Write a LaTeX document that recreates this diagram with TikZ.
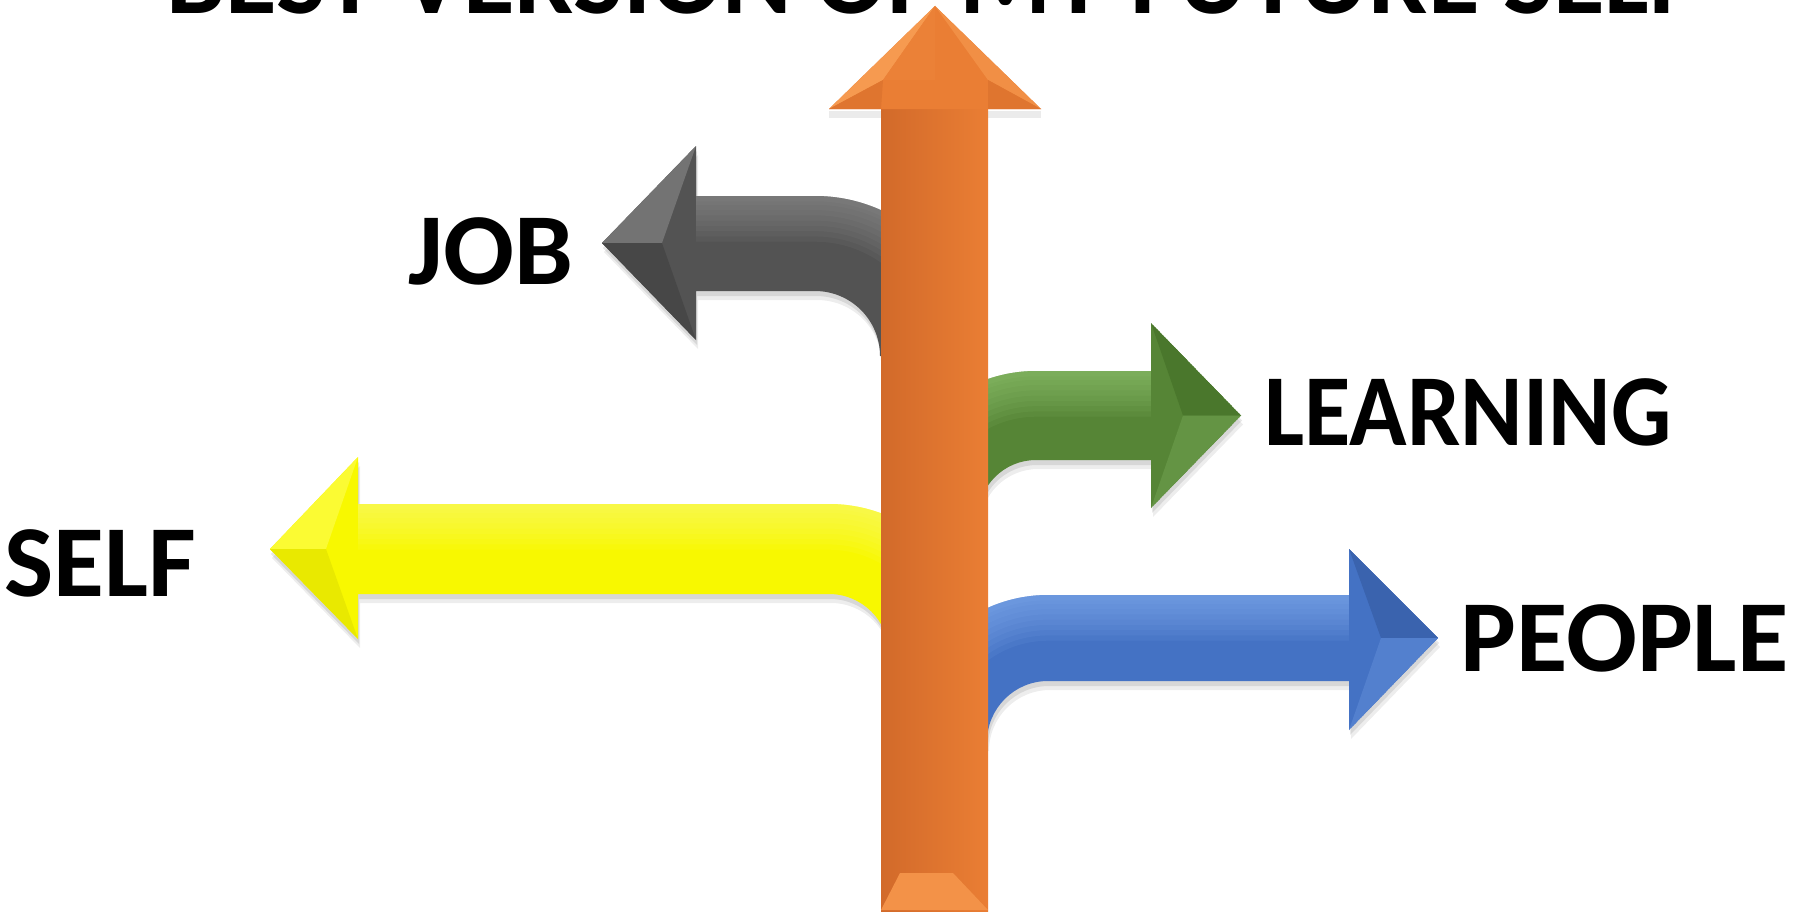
\documentclass[tikz,border=0pt]{standalone}
\usepackage{fontspec}
\setmainfont{Carlito}
\definecolor{orgA}{HTML}{EA7E34}
\definecolor{orgL}{HTML}{D26A2A}
\definecolor{orgH}{HTML}{F69A50}
\definecolor{orgD}{HTML}{DF752F}
\definecolor{gryA}{HTML}{535353}
\definecolor{gryH}{HTML}{9A9A9A}
\definecolor{gryD}{HTML}{474747}
\definecolor{ylwA}{HTML}{F8F800}
\definecolor{ylwH}{HTML}{FFFF80}
\definecolor{ylwD}{HTML}{E9E900}
\definecolor{grnA}{HTML}{568536}
\definecolor{grnH}{HTML}{9DD27A}
\definecolor{grnD}{HTML}{4A772C}
\definecolor{bluA}{HTML}{4472C4}
\definecolor{bluH}{HTML}{8DB8F8}
\definecolor{bluD}{HTML}{3A63AE}
\tikzset{
  lbl/.style={inner sep=0pt, font=\fontsize{29}{35}\selectfont\bfseries, text=black},
  ttl/.style={inner sep=0pt, font=\fontsize{30}{36}\selectfont\bfseries, text=black},
  shad/.style={fill=black, opacity=#1},
}
\newcommand\jobarrow[1]{\path[#1] (602,243) -- (696,146) -- (696,196) -- (815,196) .. controls (903.4,196) and (975,267.6) .. (975,356) -- (880,356) .. controls (880,320.1) and (850.9,291) .. (815,291) -- (696,291) -- (696,340) -- cycle;}
\newcommand\selfarrow[1]{\path[#1] (270,549) -- (358,457) -- (358,504) -- (829,504) .. controls (911.8,504) and (979,571.2) .. (979,654) -- (889,654) .. controls (889,620.9) and (862.1,594) .. (829,594) -- (358,594) -- (358,639) -- cycle;}
\newcommand\learnarrow[1]{\path[#1] (1241,415.5) -- (1151,323) -- (1151,371) -- (1036,371) .. controls (954.8,371) and (889,436.8) .. (889,518) -- (978,518) .. controls (978,486) and (1004,460) .. (1036,460) -- (1151,460) -- (1151,508) -- cycle;}
\newcommand\peoplearrow[1]{\path[#1] (1438,638) -- (1349,549) -- (1349,595) -- (1048,595) .. controls (966.8,595) and (901,660.8) .. (901,742) -- (987,742) .. controls (987,708.3) and (1014.3,681) .. (1048,681) -- (1349,681) -- (1349,730) -- cycle;}
\newcommand\glow[2]{%
  \foreach \w in {26,23,20,17,14,11,8,5,3}{\draw[#1, line width=\w, opacity=.09] #2;}}
\begin{document}
\begin{tikzpicture}[x=0.01cm,y=-0.01cm]
\useasboundingbox (0,0) rectangle (1805,912);
\clip (0,0) rectangle (1805,912);
\fill[white] (0,0) rectangle (1805,912);

% title (cut at top)
\node[ttl, anchor=base] (title) at (932,14) {BEST VERSION OF MY FUTURE SELF};

% JOB arrow (grey)
\jobarrow{shad=.07, shift={(2,9)}}
\jobarrow{shad=.09, shift={(1,5)}}
\jobarrow{fill=gryA}
\begin{scope}
\jobarrow{clip}
\glow{gryH}{(696,196) -- (815,196) .. controls (903.4,196) and (975,267.6) .. (975,356)}
\fill[gryH!45!gryA] (602,243) -- (696,146) -- (662,243) -- cycle;
\fill[gryD] (602,243) -- (662,243) -- (696,340) -- cycle;
\end{scope}

% SELF arrow (yellow)
\selfarrow{shad=.07, shift={(2,9)}}
\selfarrow{shad=.09, shift={(1,5)}}
\selfarrow{fill=ylwA}
\begin{scope}
\selfarrow{clip}
\glow{ylwH}{(358,504) -- (829,504) .. controls (911.8,504) and (979,571.2) .. (979,654)}
\fill[ylwA!60!ylwH] (270,549) -- (358,457) -- (326,549) -- cycle;
\fill[ylwD] (270,549) -- (326,549) -- (358,639) -- cycle;
\end{scope}

% LEARNING arrow (green)
\learnarrow{shad=.07, shift={(2,9)}}
\learnarrow{shad=.09, shift={(1,5)}}
\learnarrow{fill=grnA}
\begin{scope}
\learnarrow{clip}
\glow{grnH}{(1151,371) -- (1036,371) .. controls (954.8,371) and (889,436.8) .. (889,518)}
\fill[grnD] (1241,415.5) -- (1151,323) -- (1183,415.5) -- cycle;
\fill[grnA!80!grnH] (1241,415.5) -- (1183,415.5) -- (1151,508) -- cycle;
\end{scope}

% PEOPLE arrow (blue)
\peoplearrow{shad=.07, shift={(2,9)}}
\peoplearrow{shad=.09, shift={(1,5)}}
\peoplearrow{fill=bluA}
\begin{scope}
\peoplearrow{clip}
\glow{bluH}{(1349,595) -- (1048,595) .. controls (966.8,595) and (901,660.8) .. (901,742)}
\fill[bluD] (1438,638) -- (1349,549) -- (1381,638) -- cycle;
\fill[bluA!80!bluH] (1438,638) -- (1381,638) -- (1349,730) -- cycle;
\end{scope}

% vertical arrow (orange)
\fill[shad=.08] (829,111) -- (1041,111) -- (1041,118) -- (829,118) -- cycle;
\fill[left color=orgL, right color=orgA] (881,108) rectangle (988,912);
\fill[orgA] (935,6) -- (1041,109) -- (829,109) -- cycle;
\fill[orgH] (935,6) -- (829,109) -- (883,80) -- cycle;
\fill[orgH!60!orgA] (935,6) -- (1041,109) -- (988,80) -- cycle;
\fill[orgD] (829,109) -- (883,80) -- (881,109) -- cycle;
\fill[orgD] (1041,109) -- (988,80) -- (988,109) -- cycle;
\fill[orgA!90!orgH] (935,6) -- (883,80) -- (935,80) -- cycle;
\fill[orgH!70!orgA] (881,910) -- (900,873) -- (953,873) -- (988,910) -- cycle;

% labels
\node[lbl, anchor=base east, xscale=1.03] (job) at (574,284) {JOB};
\node[lbl, anchor=base west, xscale=0.93] (learning) at (1264,445) {LEARNING};
\node[lbl, anchor=base west, xscale=1.02] (self) at (4,596) {SELF};
\node[lbl, anchor=base west, xscale=1.03] (people) at (1460,671) {PEOPLE};
\end{tikzpicture}
\end{document}
